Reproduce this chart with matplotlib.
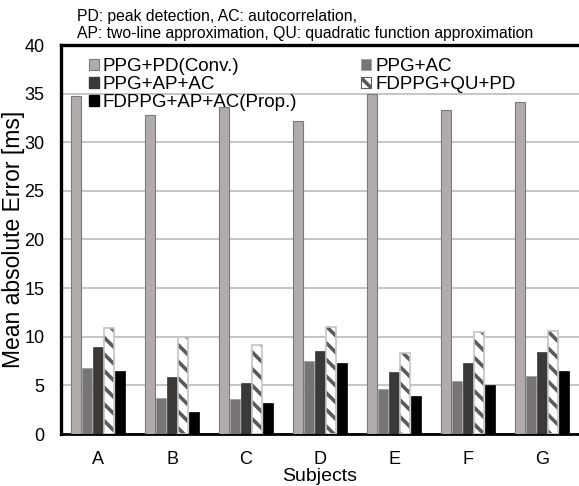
import numpy as np
import matplotlib
matplotlib.use('Agg')
import matplotlib.pyplot as plt
from matplotlib.patches import Patch

plt.rcParams['font.family'] = ['Liberation Sans', 'DejaVu Sans']
plt.rcParams['hatch.linewidth'] = 2.6

# 数据
subjects = ['A', 'B', 'C', 'D', 'E', 'F', 'G']
conv = [34.8, 32.8, 33.6, 32.2, 35.0, 33.3, 34.1]
ppg_ac = [6.8, 3.7, 3.6, 7.5, 4.6, 5.4, 6.0]
ppg_ap_ac = [8.9, 5.9, 5.2, 8.5, 6.4, 7.3, 8.4]
fdppg_qu_pd = [10.9, 10.0, 9.2, 11.0, 8.3, 10.5, 10.6]
prop = [6.5, 2.3, 3.2, 7.3, 3.9, 5.0, 6.5]
yticks = [0, 5, 10, 15, 20, 25, 30, 35, 40]

fig = plt.figure(figsize=(5.79, 4.86), dpi=100)
ax = fig.add_axes([61 / 579, 52 / 486, 1 - 61 / 579, 389 / 486])

x = np.arange(len(subjects))
step = 0.148
w = 0.128

ax.bar(x - 2 * step, conv, w, color='#afacab', edgecolor='#7a7a7a', linewidth=0.8, zorder=3)
ax.bar(x - step, ppg_ac, w, color='#787473', edgecolor='#9a9a9a', linewidth=0.5, zorder=3)
ax.bar(x, ppg_ap_ac, w, color='#3b3937', edgecolor='#3b3937', linewidth=0.5, zorder=3)
# 斜线填充的柱子：先画条纹，再画浅灰边框
ax.bar(x + step, fdppg_qu_pd, w, color='white', edgecolor='#5a5a5a', hatch='\\\\', linewidth=0, zorder=3)
ax.bar(x + step, fdppg_qu_pd, w, color='none', edgecolor='#c4c4c4', linewidth=1.2, zorder=4)
ax.bar(x + 2 * step, prop, w, color='black', edgecolor='black', linewidth=0.5, zorder=3)

ax.set_xlim(-0.5, 6.5)
ax.set_ylim(0, 40)
ax.set_yticks(yticks)
ax.set_xticks(x)
ax.set_xticklabels(subjects)
ax.tick_params(axis='both', length=0, labelsize=13)
ax.tick_params(axis='y', pad=12)
ax.tick_params(axis='x', pad=12)
ax.grid(axis='y', color='#c0c0c0', linewidth=1.3, zorder=0)
ax.set_axisbelow(True)

for s in ['left', 'top']:
    ax.spines[s].set_linewidth(2.4)
ax.spines['bottom'].set_linewidth(2.0)
ax.spines['right'].set_visible(False)

ax.set_xlabel('Subjects', fontsize=14, labelpad=0.5)
ax.set_ylabel('Mean absolute Error [ms]', fontsize=16.5)
ax.yaxis.set_label_coords(-36 / 518, 0.5)

h_conv = Patch(facecolor='#afacab', edgecolor='#7a7a7a', linewidth=0.8)
h_ac = Patch(facecolor='#787473', edgecolor='#9a9a9a', linewidth=0.5)
h_apac = Patch(facecolor='#3b3937', edgecolor='#3b3937')
h_qu = Patch(facecolor='white', edgecolor='#5a5a5a', hatch='\\\\', linewidth=0.8)
h_prop = Patch(facecolor='black', edgecolor='black')
handles = [h_conv, h_apac, h_prop, h_ac, h_qu]
labels = ['PPG+PD(Conv.)', 'PPG+AP+AC', 'FDPPG+AP+AC(Prop.)', 'PPG+AC', 'FDPPG+QU+PD']
ax.legend(handles, labels, ncol=2, loc='upper left', bbox_to_anchor=(0.028, 1.0),
          frameon=False, fontsize=13.5, handlelength=0.55, handleheight=0.55,
          handletextpad=0.2, labelspacing=0.05, columnspacing=3.4,
          borderaxespad=0.3)

fig.text(77 / 579, 1 - 9 / 486,
         'PD: peak detection, AC: autocorrelation,\nAP: two-line approximation, QU: quadratic function approximation',
         fontsize=11.3, va='top', ha='left', linespacing=1.15)

fig.savefig('out.png', dpi=100)
